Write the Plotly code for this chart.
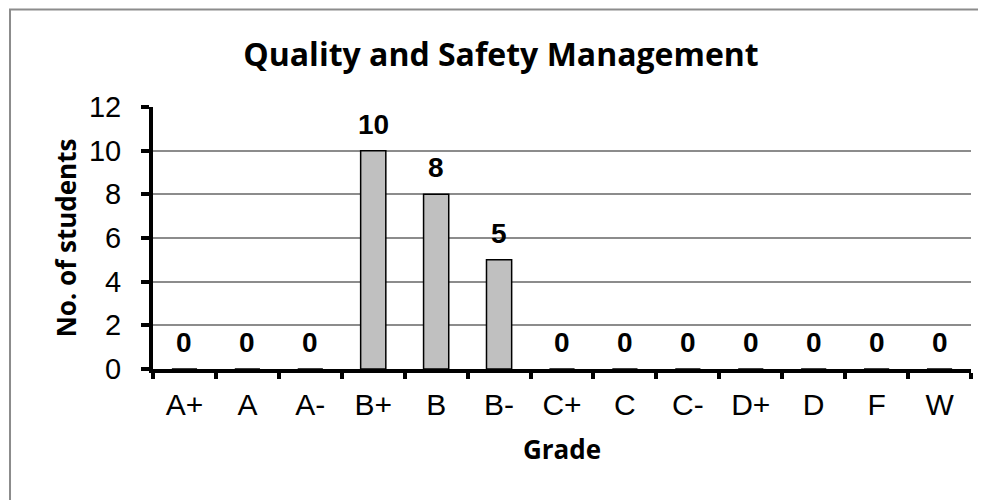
import plotly.graph_objects as go

grades = ["A+", "A", "A-", "B+", "B", "B-", "C+", "C", "C-", "D+", "D", "F", "W"]
students = [0, 0, 0, 10, 8, 5, 0, 0, 0, 0, 0, 0, 0]
y_ticks = [0, 2, 4, 6, 8, 10, 12]

fig = go.Figure()
fig.add_trace(go.Bar(
    x=grades,
    y=students,
    marker=dict(color="#C0C0C0", line=dict(color="black", width=1.5)),
    hoverinfo="x+y",
))

# value labels above the bars (Excel style)
for g, v in zip(grades, students):
    fig.add_annotation(
        x=g, y=v, text=f"<b>{v}</b>", showarrow=False,
        yanchor="bottom", yshift=9,
        font=dict(family="Liberation Sans", size=28, color="black"),
    )

# outer chart border
fig.add_shape(
    type="rect", xref="paper", yref="paper",
    x0=-0.1748, x1=1.03, y0=-0.7, y1=1.372,
    line=dict(color="#8c8c8c", width=2), fillcolor="rgba(0,0,0,0)",
)

# page has an 8px body margin, so margins are shifted by 8px
fig.update_layout(
    width=986,
    height=500,
    margin=dict(l=145, r=23, t=99, b=139),
    paper_bgcolor="white",
    plot_bgcolor="white",
    bargap=0.6,
    showlegend=False,
    title=dict(
        text="<b>Quality and Safety Management</b>",
        x=0.5, xanchor="center", y=0.906, yanchor="middle",
        font=dict(family="Open Sans", size=32, color="black"),
    ),
    xaxis=dict(
        title=dict(text="<b>Grade</b>", font=dict(family="Open Sans", size=26, color="black"), standoff=22),
        tickfont=dict(family="Liberation Sans", size=30, color="black"),
        ticklabelstandoff=6,
        showline=True, linecolor="black", linewidth=4,
        ticks="outside", tickson="boundaries", ticklen=6, tickwidth=4, tickcolor="black",
        showgrid=False,
    ),
    yaxis=dict(
        title=dict(text="<b>No. of students</b>", font=dict(family="Open Sans", size=26, color="black"), standoff=6),
        tickfont=dict(family="Liberation Sans", size=29, color="black"),
        ticklabelstandoff=14,
        range=[0, 12], tickmode="array", tickvals=y_ticks,
        showline=True, linecolor="black", linewidth=4,
        ticks="outside", ticklen=8, tickwidth=4, tickcolor="black",
        showgrid=True, gridcolor="#8c8c8c", gridwidth=1.5,
        zeroline=False,
    ),
)

fig.write_html("out.html")
